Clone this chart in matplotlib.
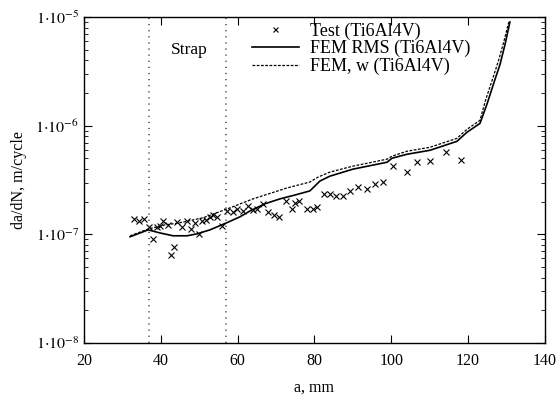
import matplotlib
matplotlib.use("Agg")
import matplotlib.pyplot as plt
from matplotlib.ticker import FixedLocator, LogLocator, NullFormatter, FuncFormatter
import math

plt.rcParams['font.family'] = ['Liberation Serif', 'DejaVu Serif']
plt.rcParams['mathtext.fontset'] = 'stix'

# Test data (Ti6Al4V)
test_a = [33.0, 34.3, 35.6, 36.9, 38.0, 39.0, 39.8, 40.6, 41.9, 42.6, 43.4, 44.2,
          45.5, 46.8, 47.9, 48.9, 49.9, 50.7, 51.8, 52.8, 53.6, 54.6, 55.9, 57.2,
          58.8, 59.8, 61.4, 62.7, 64.0, 65.0, 66.6, 67.9, 69.5, 70.8, 72.6, 74.1,
          74.9, 76.0, 78.0, 79.6, 80.6, 82.4, 84.0, 85.6, 87.4, 89.2, 91.3, 93.7,
          95.7, 97.8, 100.4, 104.1, 106.7, 110.1, 114.2, 118.1]
test_v = [1.39e-7, 1.33e-7, 1.39e-7, 1.17e-7, 0.91e-7, 1.17e-7, 1.20e-7, 1.33e-7,
          1.22e-7, 0.65e-7, 0.77e-7, 1.30e-7, 1.17e-7, 1.33e-7, 1.12e-7, 1.28e-7,
          1.01e-7, 1.33e-7, 1.36e-7, 1.45e-7, 1.50e-7, 1.45e-7, 1.20e-7, 1.65e-7,
          1.61e-7, 1.71e-7, 1.64e-7, 1.83e-7, 1.67e-7, 1.71e-7, 1.91e-7, 1.61e-7,
          1.51e-7, 1.45e-7, 2.03e-7, 1.71e-7, 1.95e-7, 2.03e-7, 1.71e-7, 1.71e-7,
          1.79e-7, 2.35e-7, 2.35e-7, 2.25e-7, 2.25e-7, 2.51e-7, 2.72e-7, 2.60e-7,
          2.90e-7, 3.04e-7, 4.25e-7, 3.74e-7, 4.62e-7, 4.71e-7, 5.70e-7, 4.82e-7]

# FEM RMS (Ti6Al4V)
rms_a = [32.0, 34.6, 36.7, 39.8, 43.2, 46.8, 49.4, 52.8, 57.2, 60.6, 63.2, 67.1,
         71.0, 74.9, 78.8, 80.1, 81.4, 84.0, 90.0, 98.9, 100.2, 104.1, 110.1,
         117.1, 119.7, 123.1, 124.9, 127.0, 128.3, 129.6, 130.9]
rms_v = [0.95e-7, 1.03e-7, 1.10e-7, 1.03e-7, 0.97e-7, 0.97e-7, 1.01e-7, 1.10e-7,
         1.28e-7, 1.45e-7, 1.64e-7, 1.91e-7, 2.12e-7, 2.30e-7, 2.51e-7, 2.78e-7,
         3.09e-7, 3.43e-7, 3.98e-7, 4.61e-7, 5.02e-7, 5.46e-7, 5.94e-7, 7.18e-7,
         8.69e-7, 1.05e-6, 1.57e-6, 2.66e-6, 3.64e-6, 5.55e-6, 9.0e-6]

# FEM, w (Ti6Al4V)
w_a = [32.0, 36.7, 41.1, 45.0, 51.0, 57.2, 64.0, 72.8, 78.8, 80.9, 84.0, 90.0,
       98.9, 100.2, 104.1, 110.1, 117.1, 119.7, 123.1, 124.6, 126.5, 128.0,
       129.3, 130.6]
w_v = [0.97e-7, 1.12e-7, 1.22e-7, 1.28e-7, 1.42e-7, 1.71e-7, 2.12e-7, 2.67e-7,
       3.03e-7, 3.36e-7, 3.74e-7, 4.24e-7, 4.92e-7, 5.24e-7, 5.82e-7, 6.33e-7,
       7.65e-7, 9.25e-7, 1.12e-6, 1.74e-6, 2.77e-6, 4.05e-6, 5.9e-6, 9.0e-6]

strap_lines = [37, 57]
x_ticks = [20, 40, 60, 80, 100, 120, 140]
y_ticks = [1e-8, 1e-7, 1e-6, 1e-5]

fig = plt.figure(figsize=(5.6, 4.05), dpi=100)
ax = fig.add_axes([0.15, 0.153, 0.823, 0.805])

ax.plot(test_a, test_v, linestyle='none', marker='x', color='black',
        markersize=4.5, markeredgewidth=0.8, label='Test (Ti6Al4V)')
ax.plot(rms_a, rms_v, color='black', linewidth=1.2, label='FEM RMS (Ti6Al4V)')
ax.plot(w_a, w_v, color='black', linewidth=0.9, linestyle=(0, (2.2, 1.2)),
        label='FEM, w (Ti6Al4V)')

for xv in strap_lines:
    ax.axvline(xv, color='#444444', linewidth=1.1, linestyle=(0, (0.8, 3.2)))

ax.text(47.3, 5.0e-6, 'Strap', fontsize=12.5, ha='center', va='center')

ax.set_yscale('log')
ax.set_xlim(20, 140)
ax.set_ylim(1e-8, 1e-5)
ax.xaxis.set_major_locator(FixedLocator(x_ticks))
ax.yaxis.set_major_locator(FixedLocator(y_ticks))
ax.yaxis.set_minor_locator(LogLocator(base=10, subs=range(2, 10)))
ax.yaxis.set_minor_formatter(NullFormatter())

def yfmt(v, pos):
    e = int(round(math.log10(v)))
    return r'$1{\cdot}10^{%d}$' % e
ax.yaxis.set_major_formatter(FuncFormatter(yfmt))

ax.tick_params(which='both', direction='in', top=True, right=True, labelsize=11.5)
ax.tick_params(which='major', length=6, width=0.8)
ax.tick_params(which='minor', length=3, width=0.6)
ax.tick_params(axis='x', pad=7)
for s in ax.spines.values():
    s.set_linewidth(1.0)

ax.set_xlabel('a, mm', fontsize=11.5, labelpad=8)
ax.set_ylabel('da/dN, m/cycle', fontsize=11.5, labelpad=6)

leg = ax.legend(loc='upper left', bbox_to_anchor=(0.364, 0.984), frameon=False,
                fontsize=13, handlelength=2.6, handletextpad=0.6, labelspacing=0.03,
                borderpad=0, borderaxespad=0, markerscale=0.8)

fig.savefig('out.png', dpi=100)
